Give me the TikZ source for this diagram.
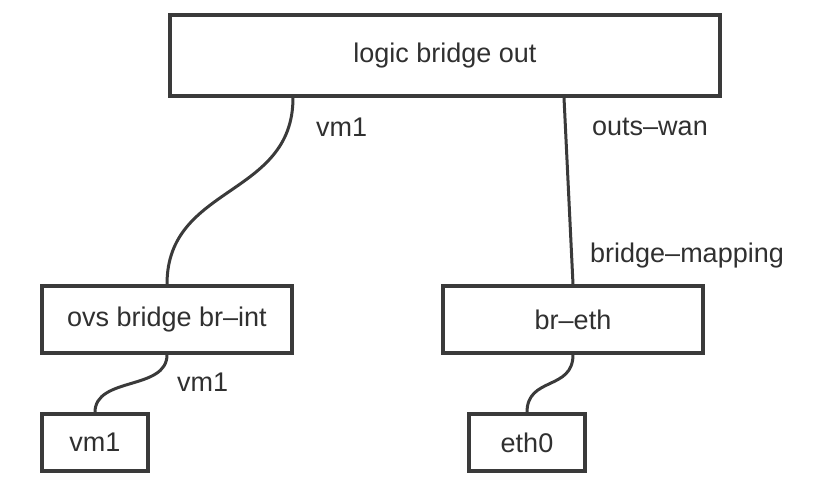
\documentclass[tikz,border=0pt]{standalone}
\usepackage{fontspec}
\setmainfont{Liberation Sans}
\usepackage{tikz}

\definecolor{boxline}{HTML}{3A3A3A}
\definecolor{labeltext}{HTML}{303030}

\tikzset{
	bridgebox/.style={draw=boxline, line width=3.5pt, fill=white, inner sep=0pt,
		text=labeltext, font=\fontsize{27}{32}\selectfont},
	link/.style={draw=boxline, line width=3pt},
	portlabel/.style={anchor=west, inner sep=0pt, text=labeltext,
		font=\fontsize{27}{32}\selectfont},
}

\begin{document}
\begin{tikzpicture}[x=1pt, y=1pt]
		\useasboundingbox (0, 0) rectangle (822, 494);

		\node[bridgebox, minimum width=550pt, minimum height=81pt] (out) at (445, 438.5) {logic bridge out};
		\node[bridgebox, minimum width=250pt, minimum height=67pt] (brint) at (167, 174.5) {ovs bridge br–int};
		\node[bridgebox, minimum width=260pt, minimum height=67pt] (breth) at (573, 174.5) {br–eth};
		\node[bridgebox, minimum width=106pt, minimum height=57pt] (vm) at (95, 51.5) {vm1};
		\node[bridgebox, minimum width=116pt, minimum height=57pt] (eth) at (527, 51.5) {eth0};

		\draw[link] ([xshift=-152pt]out.south) .. controls +(0, -100) and +(0, 100) .. (brint.north);
		\draw[link] ([xshift=119pt]out.south) -- (breth.north);
		\draw[link] (brint.south) .. controls +(0, -36) and +(0, 36) .. (vm.north);
		\draw[link] (breth.south) .. controls +(0, -36) and +(0, 36) .. (eth.north);

		\node[portlabel] (vmport) at (316, 367) {vm1};
		\node[portlabel] (wanport) at (592, 367) {outs–wan};
		\node[portlabel] (mapport) at (590, 238) {bridge–mapping};
		\node[portlabel] (tapport) at (177, 112) {vm1};
	\end{tikzpicture}
\end{document}
